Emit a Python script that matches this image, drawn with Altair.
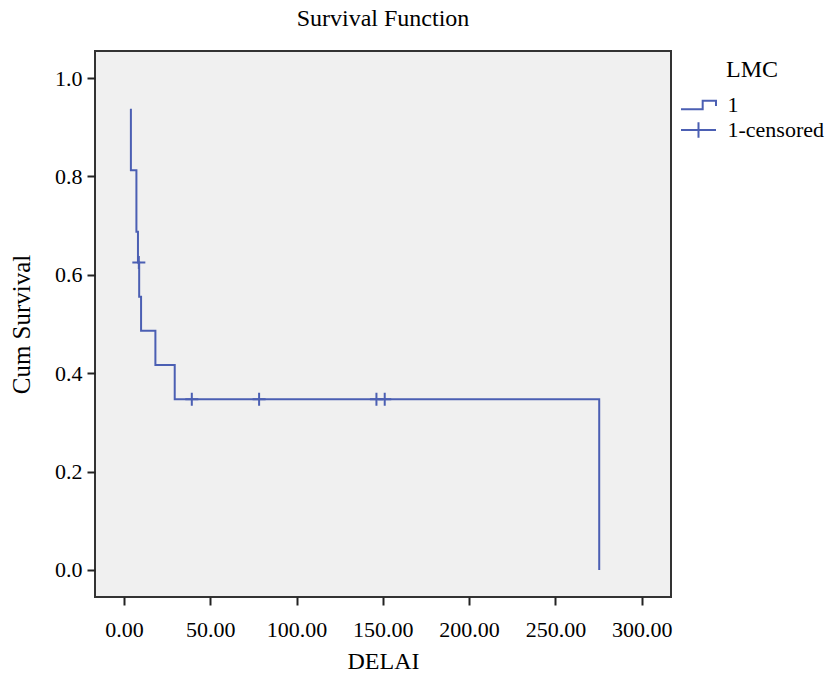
import altair as alt
import pandas as pd

# Kaplan-Meier step curve (time, cumulative survival)
step_time = [4.0, 4.0, 7.2, 8.1, 8.8, 9.9, 18.2, 29.4, 275.4]
step_surv = [0.9375, 0.8125, 0.6875, 0.625, 0.5556, 0.4861, 0.4167, 0.3472, 0.0]

# censored observations
cens_time = [8.6, 39.3, 78.3, 146.3, 151.1]
cens_surv = [0.625, 0.3472, 0.3472, 0.3472, 0.3472]

x_ticks = [0, 50, 100, 150, 200, 250, 300]
y_ticks = [0.0, 0.2, 0.4, 0.6, 0.8, 1.0]
legend_title = "LMC"
line_label = "1"
cens_label = "1-censored"

BLUE = "#4b5fb3"
FONT = "Liberation Serif"

steps = pd.DataFrame({"t": step_time, "s": step_surv, "series": [line_label] * len(step_time)})
cens = pd.DataFrame({"t": cens_time, "s": cens_surv, "series": [cens_label] * len(cens_time)})

xscale = alt.Scale(domain=[-16.8, 317], nice=False, zero=False)
yscale = alt.Scale(domain=[-0.055, 1.055], nice=False, zero=False)

xaxis = alt.Axis(values=x_ticks, format=".2f", title="DELAI", grid=False, domain=False,
                 tickSize=8, tickWidth=2, tickColor="#222", labelFont=FONT, labelFontSize=22,
                 labelColor="black", labelPadding=14, titleFont=FONT, titleFontSize=24,
                 titleFontWeight="normal", titleColor="black", titlePadding=9)
yaxis = alt.Axis(values=y_ticks, format=".1f", title="Cum Survival", grid=False, domain=False,
                 tickSize=8, tickWidth=2, tickColor="#222", labelFont=FONT, labelFontSize=22,
                 labelColor="black", labelPadding=5, titleFont=FONT, titleFontSize=25,
                 titleFontWeight="normal", titleColor="black", titlePadding=20)

STEP_SYM = "M-1.59,0.38H0.38V-0.38H1.59V0.1"
PLUS_SYM = "M-1.59,0H1.59M0,-0.7V0.7"

common_legend = dict(orient="none", legendX=585, symbolSize=484, symbolOffset=6.5,
                     symbolStrokeWidth=2, symbolFillColor="transparent",
                     symbolStrokeColor=BLUE, labelOffset=17,
                     labelFont=FONT, labelFontSize=22, labelColor="black")

line = alt.Chart(steps).mark_line(interpolate="step-after", strokeWidth=2).encode(
    x=alt.X("t:Q", scale=xscale, axis=xaxis),
    y=alt.Y("s:Q", scale=yscale, axis=yaxis),
    stroke=alt.Stroke("series:N", scale=alt.Scale(range=[BLUE]),
                      legend=alt.Legend(title=None, legendY=42, symbolType=STEP_SYM,
                                        **common_legend)),
)

pts = alt.Chart(cens).mark_point(shape="M-1,0H1M0,-1V1", size=169, filled=False,
                                 strokeWidth=2, opacity=1).encode(
    x=alt.X("t:Q", scale=xscale),
    y=alt.Y("s:Q", scale=yscale),
    color=alt.Color("series:N", scale=alt.Scale(range=[BLUE]),
                    legend=alt.Legend(title=legend_title, legendY=7, symbolType=PLUS_SYM,
                                      titleFont=FONT, titleFontSize=24, titleFontWeight="normal",
                                      titleColor="black", titleAnchor="middle", titlePadding=36,
                                      **common_legend)),
)

chart = alt.layer(line, pts).properties(
    width=576, height=546,
    title=alt.TitleParams("Survival Function", font=FONT, fontSize=24, fontWeight="normal",
                          color="black", anchor="middle", offset=20),
    autosize=alt.AutoSizeParams(type="none"),
    padding={"left": 87, "top": 43, "right": 154, "bottom": 73},
).configure_view(stroke="#333", strokeWidth=2, fill="#f0f0f0")

chart.save("out.html", embed_options={"renderer": "svg", "actions": False})
